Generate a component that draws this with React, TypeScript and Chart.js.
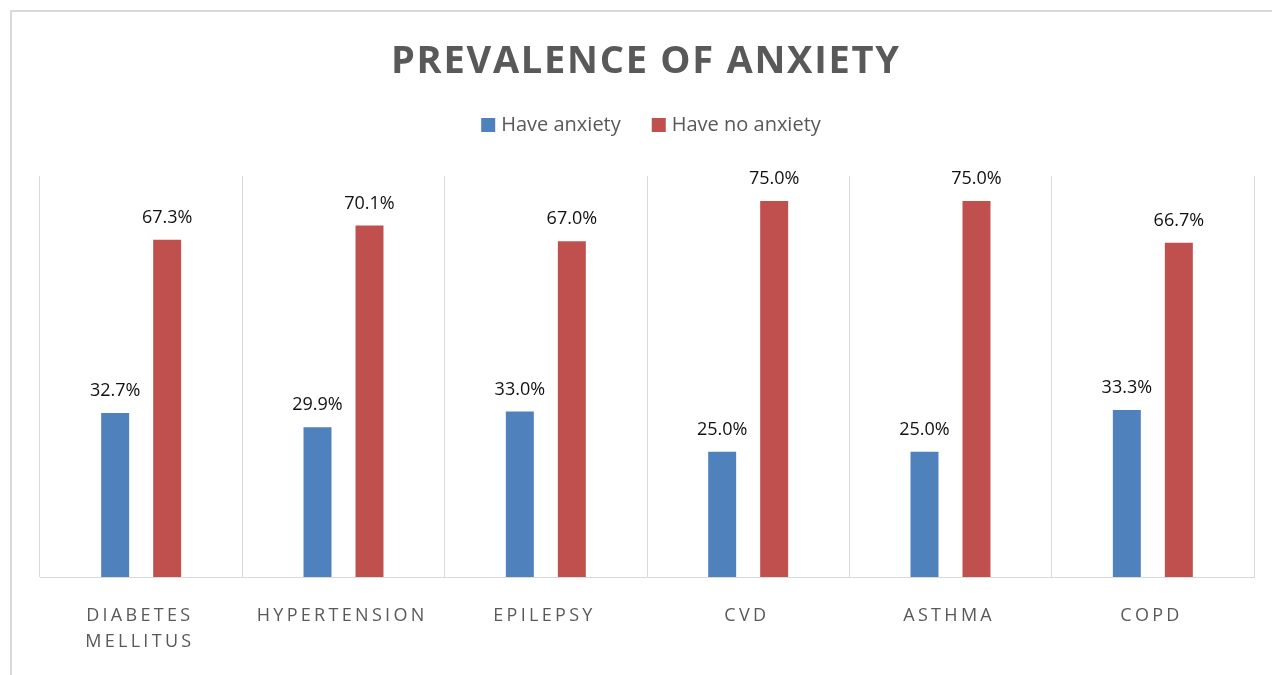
import { useEffect, useRef } from 'react';
import { Chart, registerables } from 'chart.js';

Chart.register(...registerables);

const categoryLines: string[][] = [
  ['DIABETES', 'MELLITUS'],
  ['HYPERTENSION'],
  ['EPILEPSY'],
  ['CVD'],
  ['ASTHMA'],
  ['COPD'],
];
const categories = categoryLines.map((l) => l.join(' '));
const haveAnxiety = [32.7, 29.9, 33.0, 25.0, 25.0, 33.3];
const haveNoAnxiety = [67.3, 70.1, 67.0, 75.0, 75.0, 66.7];
const seriesNames = ['Have anxiety', 'Have no anxiety'];
const seriesColors = ['#4F81BD', '#C0504D'];
const titleText = 'PREVALENCE OF ANXIETY';
const yMax = 80;

const FONT = '"Open Sans", "DejaVu Sans", sans-serif';

function spacedWidth(ctx: CanvasRenderingContext2D, text: string, spacing: number) {
  (ctx as any).letterSpacing = '0px';
  const w = ctx.measureText(text).width;
  return w + spacing * (text.length - 1);
}

const textPlugin = {
  id: 'customText',
  afterDraw(chart: any) {
    const ctx: CanvasRenderingContext2D = chart.ctx;
    ctx.save();
    ctx.textBaseline = 'alphabetic';
    ctx.textAlign = 'left';

    // Title: fit letter spacing to span
    ctx.font = `bold 38px ${FONT}`;
    ctx.fillStyle = '#595959';
    const tLeft = 391;
    const tRight = 899;
    (ctx as any).letterSpacing = '0px';
    const tw = ctx.measureText(titleText).width;
    const tSp = Math.max(0, (tRight - tLeft - tw) / (titleText.length - 1));
    (ctx as any).letterSpacing = `${tSp}px`;
    ctx.fillText(titleText, tLeft, 73);

    // Legend
    ctx.font = `20px ${FONT}`;
    (ctx as any).letterSpacing = '0px';
    const w1 = ctx.measureText(seriesNames[0]).width;
    const w2 = ctx.measureText(seriesNames[1]).width;
    const box = 14;
    const gapText = 6;
    const gapItem = 31;
    const total = box + gapText + w1 + gapItem + box + gapText + w2;
    let lx = 651 - total / 2;
    const boxTop = 118;
    const baseY = 131;
    seriesNames.forEach((name, i) => {
      ctx.fillStyle = seriesColors[i];
      ctx.fillRect(lx, boxTop, box, box);
      ctx.fillStyle = '#595959';
      ctx.fillText(name, lx + box + gapText, baseY);
      lx += box + gapText + (i === 0 ? w1 : w2) + gapItem;
    });

    // X labels
    const xScale = chart.scales.x;
    ctx.font = `18px ${FONT}`;
    ctx.fillStyle = '#595959';
    const sp = 3.3;
    categoryLines.forEach((lines, i) => {
      const cx = xScale.getPixelForValue(i) - 3;
      lines.forEach((line, j) => {
        const w = spacedWidth(ctx, line, sp);
        (ctx as any).letterSpacing = `${sp}px`;
        ctx.fillText(line, cx - w / 2, 621 + j * 26);
      });
    });

    // Data labels
    (ctx as any).letterSpacing = '0px';
    ctx.font = `18px ${FONT}`;
    ctx.fillStyle = '#111111';
    ctx.textAlign = 'center';
    chart.data.datasets.forEach((ds: any, di: number) => {
      const meta = chart.getDatasetMeta(di);
      meta.data.forEach((el: any, i: number) => {
        const v = ds.data[i] as number;
        ctx.fillText(`${v.toFixed(1)}%`, el.x, el.y - 17);
      });
    });

    ctx.restore();
  },
};

export default function App() {
  const canvasRef = useRef<HTMLCanvasElement | null>(null);

  useEffect(() => {
    const canvas = canvasRef.current;
    if (!canvas) return;
    const chart = new Chart(canvas, {
      type: 'bar',
      data: {
        labels: categories,
        datasets: [
          {
            label: seriesNames[0],
            data: haveAnxiety,
            backgroundColor: seriesColors[0],
            borderWidth: 0,
            categoryPercentage: 0.514,
            barPercentage: 0.538,
          },
          {
            label: seriesNames[1],
            data: haveNoAnxiety,
            backgroundColor: seriesColors[1],
            borderWidth: 0,
            categoryPercentage: 0.514,
            barPercentage: 0.538,
          },
        ],
      },
      options: {
        responsive: false,
        animation: false,
        events: [],
        layout: {
          padding: { left: 40, right: 18, top: 176, bottom: 98 },
        },
        plugins: {
          legend: { display: false },
          title: { display: false },
          tooltip: { enabled: false },
        },
        scales: {
          x: {
            offset: true,
            grid: {
              display: true,
              offset: true,
              color: '#d9d9d9',
              lineWidth: 1,
              drawTicks: false,
            },
            border: { display: true, color: '#d9d9d9', width: 1 },
            ticks: { display: false },
          },
          y: {
            display: false,
            min: 0,
            max: yMax,
          },
        },
      },
      plugins: [textPlugin],
    });
    return () => chart.destroy();
  }, []);

  return (
    <div
      style={{
        position: 'absolute',
        left: 0,
        top: 0,
        width: 1272,
        height: 675,
        overflow: 'hidden',
        background: '#ffffff',
      }}
    >
      <div
        style={{
          position: 'absolute',
          left: 10,
          top: 10,
          width: 1300,
          height: 700,
          borderTop: '2px solid #d9d9d9',
          borderLeft: '2px solid #d9d9d9',
          boxSizing: 'border-box',
        }}
      />
      <canvas
        ref={canvasRef}
        width={1272}
        height={675}
        style={{ position: 'absolute', left: 0, top: 0, display: 'block' }}
      />
    </div>
  );
}
